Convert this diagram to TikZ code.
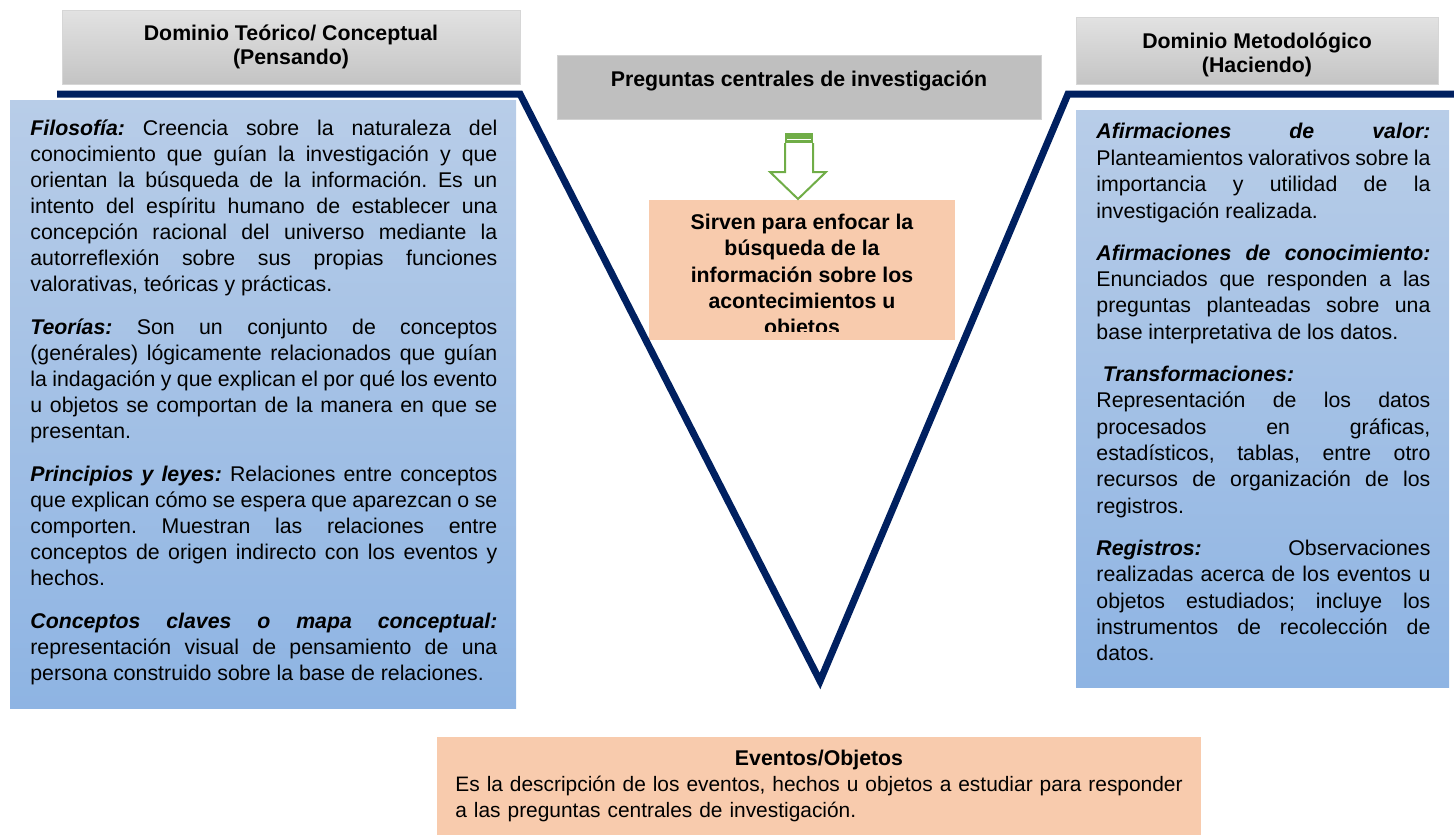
\documentclass[tikz,border=0pt]{standalone}
\usepackage{fontspec}
\setmainfont{Liberation Sans}
\usetikzlibrary{positioning}

\definecolor{vnavy}{RGB}{0,32,96}
\definecolor{hdrtop}{RGB}{226,226,226}
\definecolor{hdrbot}{RGB}{196,196,196}
\definecolor{hdrline}{RGB}{214,214,214}
\definecolor{midgray}{RGB}{191,191,191}
\definecolor{grayline}{RGB}{210,210,210}
\definecolor{peach}{RGB}{248,203,173}
\definecolor{bluetop}{RGB}{184,205,232}
\definecolor{bluebot}{RGB}{142,180,227}
\definecolor{arrowgreen}{RGB}{112,173,71}

\frenchspacing
\hyphenpenalty=10000
\tolerance=10000
\hbadness=10000

\newcommand{\lbl}[1]{\textbf{\textit{#1}}}

\begin{document}
\begin{tikzpicture}[x=0.5pt, y=-0.5pt,
  every node/.style={inner sep=0pt},
  hdrbox/.style={draw=hdrline, top color=hdrtop, bottom color=hdrbot},
  hdrtext/.style={align=center, font=\fontsize{10.65}{12}\selectfont\bfseries},
  graybox/.style={draw=grayline, fill=midgray},
  peachbox/.style={fill=peach},
  bluebox/.style={top color=bluetop, bottom color=bluebot},
  bodytext/.style={font=\fontsize{10.65}{13}\selectfont, anchor=north west, align=justify},
  boldtext/.style={font=\fontsize{10.65}{13.2}\selectfont\bfseries},
  vline/.style={vnavy, line width=3.5pt, line join=miter}]
  \useasboundingbox (0,0) rectangle (1454,835);

  % Boxes
  \node[hdrbox, minimum width=229pt, minimum height=37pt] (teorico) at (291,47) {};
  \node[hdrbox, minimum width=181pt, minimum height=33.5pt] (metodo) at (1257,50.5) {};
  \node[graybox, minimum width=242pt, minimum height=32pt] (preg) at (799,87) {};
  \node[peachbox, minimum width=153pt, minimum height=70pt] (enfoque) at (802,270) {};
  \node[bluebox, minimum width=253pt, minimum height=304pt] (teobox) at (263,404) {};
  \node[bluebox, minimum width=186.5pt, minimum height=288.5pt] (metobox) at (1262.5,398.5) {};
  \node[peachbox, minimum width=382pt, minimum height=49pt] (eventos) at (819,786) {};

  % Headers
  \node[hdrtext] (teoricotext) at (291,47) {Dominio Teórico/ Conceptual\\(Pensando)};
  \node[hdrtext] (metodotext) at (1257,55) {Dominio Metodológico\\(Haciendo)};

  % The V
  \coordinate (vleft) at (57,94);
  \coordinate (vtl) at (520,94);
  \coordinate (vtip) at (820,681);
  \coordinate (vtr) at (1068,94);
  \coordinate (vright) at (1454,94);
  \draw[vline] (vleft) -- (vtl) -- (vtip) -- (vtr) -- (vright);

  % Central questions
  \node[boldtext] (pregtext) at (799,81) {Preguntas centrales de investigación};

  % Block arrow
  \fill[arrowgreen] (785,133) rectangle (813,143);
  \draw[white, line width=0.5pt] (787,139) -- (811,139);
  \draw[arrowgreen, line width=1pt] (785,143) -- (785,172) -- (770,172) -- (798,199)
    -- (826,172) -- (813,172) -- (813,143);

  \begin{scope}
    \clip (649,200) rectangle (955,331);
    \node[boldtext, align=center, anchor=north] (enfoquetext) at (802,210.5)
      {\strut Sirven para enfocar la\\búsqueda de la\\información sobre los\\acontecimientos u\\objetos};
  \end{scope}

  % Theoretical side
  \node[bodytext, text width=233.5pt] (teotext) at (30,117) {\setlength{\parskip}{8.5pt}%
    \strut\lbl{Filosofía:} Creencia sobre la naturaleza del\linebreak
    conocimiento que guían la investigación y que\linebreak
    orientan la búsqueda de la información. Es un\linebreak
    intento del espíritu humano de establecer una\linebreak
    concepción racional del universo mediante la\linebreak
    autorreflexión sobre sus propias funciones\linebreak
    valorativas, teóricas y prácticas.\par
    \lbl{Teorías:} Son un conjunto de conceptos\linebreak
    (genérales) lógicamente relacionados que guían\linebreak
    la indagación y que explican el por qué los evento\linebreak
    u objetos se comportan de la manera en que se\linebreak
    presentan.\par
    \lbl{Principios y leyes:} Relaciones entre conceptos\linebreak
    que explican cómo se espera que aparezcan o se\linebreak
    comporten. Muestran las relaciones entre\linebreak
    conceptos de origen indirecto con los eventos y\linebreak
    hechos.\par
    \lbl{Conceptos claves o mapa conceptual:}\linebreak
    representación visual de pensamiento de una\linebreak
    persona construido sobre la base de relaciones.};

  % Methodological side
  \node[bodytext, font=\fontsize{10.65}{13.2}\selectfont, text width=167pt] (metotext) at (1096,120)
    {\setlength{\parskip}{7.8pt}%
    \strut\lbl{Afirmaciones de valor:}\linebreak
    Planteamientos valorativos sobre la\linebreak
    importancia y utilidad de la\linebreak
    investigación realizada.\par
    \lbl{Afirmaciones de conocimiento:}\linebreak
    Enunciados que responden a las\linebreak
    preguntas planteadas sobre una\linebreak
    base interpretativa de los datos.\par
    \hspace*{0.3em}\lbl{Transformaciones:}\newline
    Representación de los datos\linebreak
    procesados en gráficas,\linebreak
    estadísticos, tablas, entre otro\linebreak
    recursos de organización de los\linebreak
    registros.\par
    \lbl{Registros:} Observaciones\linebreak
    realizadas acerca de los eventos u\linebreak
    objetos estudiados; incluye los\linebreak
    instrumentos de recolección de\linebreak
    datos.};

  % Events
  \node[boldtext, anchor=north] (evtitle) at (819,747) {\strut Eventos/Objetos};
  \node[bodytext, font=\fontsize{10.45}{13}\selectfont, align=left, text width=380pt] (evtext) at (455,773)
    {\strut Es la descripción de los eventos, hechos u objetos a estudiar para responder\\
    a las preguntas centrales de investigación.};
\end{tikzpicture}
\end{document}
